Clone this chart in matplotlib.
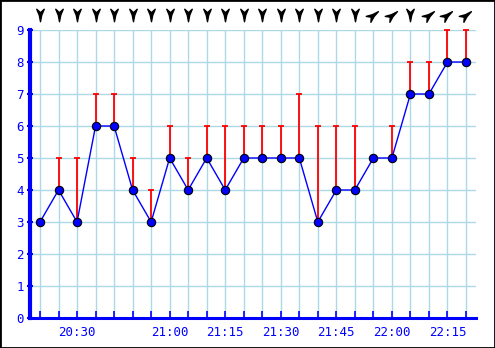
import numpy as np
import matplotlib
matplotlib.use("Agg")
import matplotlib.pyplot as plt
from matplotlib.path import Path
from matplotlib.markers import MarkerStyle
from matplotlib.transforms import Affine2D, blended_transform_factory
from matplotlib.patches import Rectangle

# average wind speed, one reading per sample
speed = [3, 4, 3, 6, 6, 4, 3, 5, 4, 5, 4, 5, 5, 5, 5, 3, 4, 4, 5, 5, 7, 7, 8, 8]
# gust speed (nan = no gust shown)
gust = [np.nan, 5, 5, 7, 7, 5, 4, 6, 5, 6, 6, 6, 6, 6, 7, 6, 6, 6, np.nan, 6, 8, 8, 9, 9]
# wind direction arrows: 0 = straight down, 1 = slanted
direction = [0] * 18 + [1, 1, 0, 1, 1, 1]
# time labels and the sample they sit under
time_labels = ["20:30", "21:00", "21:15", "21:30", "21:45", "22:00", "22:15"]
time_index = [2, 7, 10, 13, 16, 19, 22]

BLUE = "#0000ff"
GRID = "#add8e6"
FONT = "DejaVu Sans Mono"

x = np.arange(len(speed))

fig = plt.figure(figsize=(4.95, 3.48), dpi=100)
ax = fig.add_axes([30 / 495, 30 / 348, 446 / 495, 288 / 348])

# gust whiskers
g = np.array(gust, dtype=float)
s = np.array(speed, dtype=float)
ok = ~np.isnan(g)
ax.vlines(x[ok], s[ok], g[ok], color="red", lw=1.3, zorder=3)
ax.plot(x[ok], g[ok], ls="none", marker="_", ms=4.5, mew=1.3, color="red", zorder=3,
        clip_on=False)

# speed line + points
ax.plot(x, speed, color=BLUE, lw=1, zorder=4)
ax.plot(x, speed, ls="none", marker="o", ms=6, mfc=BLUE, mec="black", mew=0.8, zorder=5)

ax.set_xlim(-0.54, len(speed) - 1 + 0.54)
ax.set_ylim(0, 9)
ax.set_yticks(range(10))
ax.set_xticks(x, minor=True)
ax.set_xticks(time_index)
ax.set_xticklabels(time_labels)

ax.grid(True, which="both", axis="x", color=GRID, lw=1)
ax.grid(True, which="major", axis="y", color=GRID, lw=1)
ax.set_axisbelow(True)

for side in ["top", "right"]:
    ax.spines[side].set_visible(False)
ax.spines["left"].set_color(BLUE)
ax.spines["left"].set_linewidth(3)
ax.spines["bottom"].set_color(BLUE)
ax.spines["bottom"].set_linewidth(2.2)

ax.tick_params(axis="y", colors=BLUE, direction="inout", length=5, width=1.5,
               labelsize=9, pad=2)
ax.tick_params(axis="x", which="both", colors=BLUE, direction="in", length=5, width=1.2)
ax.tick_params(axis="x", which="major", labelsize=9, pad=6)
for lbl in ax.get_xticklabels() + ax.get_yticklabels():
    lbl.set_fontfamily(FONT)

# wind direction arrows above the plot
arrow = Path([(0, -1), (0.2, 0.05), (0.6, 1), (0, 0.45), (-0.6, 1), (-0.2, 0.05), (0, -1)],
             [Path.MOVETO] + [Path.LINETO] * 5 + [Path.CLOSEPOLY])
trans = blended_transform_factory(ax.transData, ax.transAxes)
for xi, d in zip(x, direction):
    rot = 0 if d == 0 else 128
    m = MarkerStyle(arrow, transform=Affine2D().rotate_deg(rot))
    ax.plot(xi, 1.052, marker=m, ms=9, color="black", transform=trans, clip_on=False)

fig.patches.append(Rectangle((0, 0), 1, 1, transform=fig.transFigure, fill=False,
                             edgecolor="black", lw=2))

fig.savefig("out.png", dpi=100)
